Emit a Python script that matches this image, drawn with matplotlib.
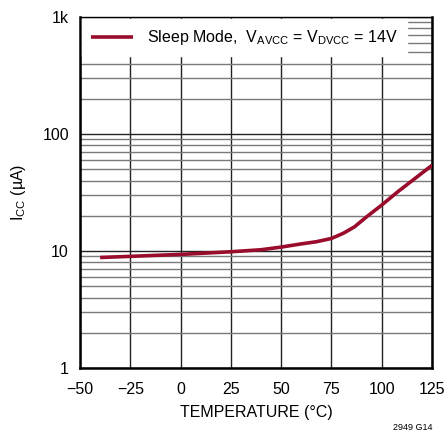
import matplotlib
matplotlib.use("Agg")
import matplotlib.pyplot as plt
import numpy as np

# sleep mode supply current vs temperature
temp_c = [-40, -25, 0, 25, 40, 50, 60, 67.5, 75, 81, 86.5, 92.5, 100, 108, 116, 125]
icc_ua = [8.8, 9.0, 9.35, 9.85, 10.25, 10.8, 11.5, 12.0, 12.8, 14.2, 16.1, 19.6, 24.7, 32.1, 41.0, 54.0]

x_ticks = [-50, -25, 0, 25, 50, 75, 100, 125]
x_labels = ['\u221250', '\u221225', '0', '25', '50', '75', '100', '125']
y_ticks = [1, 10, 100, 1000]
y_labels = ['1', '10', '100', '1k']

plt.rcParams['font.family'] = ['Liberation Sans', 'DejaVu Sans']
plt.rcParams['mathtext.fontset'] = 'custom'
plt.rcParams['mathtext.rm'] = 'Liberation Sans'
plt.rcParams['mathtext.it'] = 'Liberation Sans'

fig = plt.figure(figsize=(4.48, 4.38), dpi=100)
ax = fig.add_axes([80/448, 70/438, 352/448, 351/438])

ax.plot(temp_c, icc_ua, color='#9a0c2c', lw=2.6, solid_capstyle='butt',
        label='Sleep Mode,  V$_{\\mathrm{AVCC}}$ = V$_{\\mathrm{DVCC}}$ = 14V', zorder=3)

ax.set_yscale('log')
ax.set_xlim(-50, 125)
ax.set_ylim(1, 1000)
ax.set_xticks(x_ticks)
ax.set_xticklabels(x_labels)
ax.set_yticks(y_ticks)
ax.set_yticklabels(y_labels)
ax.yaxis.set_minor_locator(matplotlib.ticker.LogLocator(base=10, subs=np.arange(2, 10)))
ax.yaxis.set_minor_formatter(matplotlib.ticker.NullFormatter())
ax.tick_params(which='both', length=0, labelsize=11.5)
ax.tick_params(axis='x', pad=10)
ax.tick_params(axis='y', pad=8)

ax.grid(True, which='major', axis='both', color='#222222', lw=1.0)
ax.grid(True, which='minor', axis='y', color='#7a7a7a', lw=1.0)
ax.set_axisbelow(True)

for s in ['left', 'bottom', 'right']:
    ax.spines[s].set_linewidth(1.8)
ax.spines['top'].set_linewidth(1.0)

ax.set_xlabel('TEMPERATURE (\u00b0C)', fontsize=11.5, labelpad=6)
ax.set_ylabel('I$_{\\mathrm{CC}}$ (\u00b5A)', fontsize=11.5, labelpad=10)

leg = ax.legend(loc='upper left', fontsize=11.5, frameon=True, fancybox=False,
                borderaxespad=0.15, handlelength=2.6, handletextpad=0.9, borderpad=0.55)
leg.get_frame().set_edgecolor('white')
leg.get_frame().set_facecolor('white')
leg.get_frame().set_alpha(1.0)

fig.text(432/448, 1 - 428/438, '2949 G14', fontsize=6.5, ha='right', va='center')

fig.savefig('out.png', dpi=100)
